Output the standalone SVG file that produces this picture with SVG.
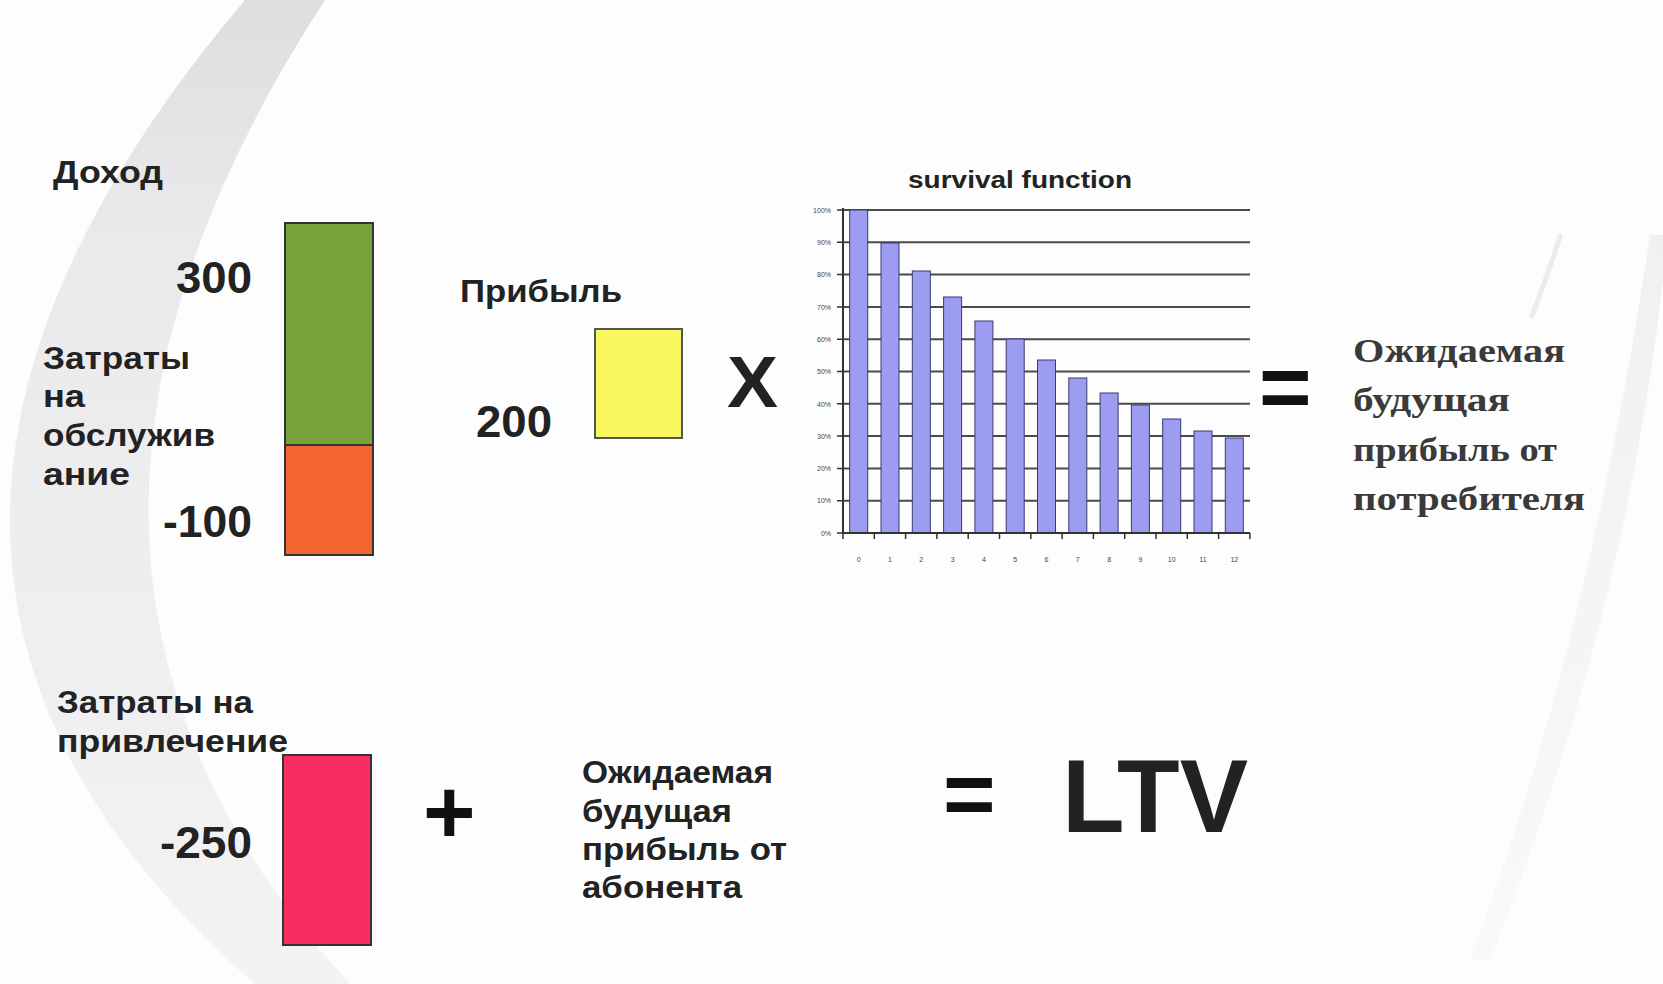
<svg xmlns="http://www.w3.org/2000/svg" width="1663" height="984" viewBox="0 0 1663 984">
  <defs>
    <linearGradient id="swooshL" x1="0" y1="0" x2="0" y2="1">
      <stop offset="0" stop-color="#dedee1"/>
      <stop offset="0.25" stop-color="#eaeaec"/>
      <stop offset="1" stop-color="#f3f3f4"/>
    </linearGradient>
    <linearGradient id="swooshR" x1="0" y1="0" x2="0" y2="1">
      <stop offset="0" stop-color="#ebebed"/>
      <stop offset="1" stop-color="#f7f7f8"/>
    </linearGradient>
    <style>
      .sans { font-family: "Liberation Sans", Arial, sans-serif; font-weight: bold; fill: #222; }
      .lbl { font-size: 32px; }
      .num { font-size: 44px; }
      .op { font-size: 90px; fill: #111; }
      .serif { font-family: "Liberation Serif", "Times New Roman", serif; font-weight: bold; font-size: 33px; fill: #3a3a3a; }
      .tick { font-family: "Liberation Sans", Arial, sans-serif; font-size: 7px; fill: #444; }
      .grid { stroke: #4a4a4a; stroke-width: 2; }
      .bar { fill: #9c9cf0; stroke: #3a3a70; stroke-width: 1; }
      .box { stroke: #333; stroke-width: 2; }
    </style>
  </defs>

  <!-- background -->
  <rect x="0" y="0" width="1663" height="984" fill="#fdfdfd"/>
  <path d="M 245,0 Q -230,560 255,984 L 350,984 Q -40,560 325,0 Z" fill="url(#swooshL)"/>
  <path d="M 1650,235 Q 1590,640 1470,960 L 1490,960 Q 1625,620 1663,280 L 1663,235 Z" fill="url(#swooshR)" opacity="0.7"/>
  <path d="M 1560,236 Q 1548,275 1532,316" stroke="#ececee" stroke-width="5" fill="none" stroke-linecap="round"/>

  <!-- Revenue / service cost bar -->
  <g id="revenue-bar">
    <text class="sans lbl" x="53" y="183" textLength="110" lengthAdjust="spacingAndGlyphs">Доход</text>
    <rect class="box" x="285" y="223" width="88" height="222" fill="#76a33c"/>
    <rect class="box" x="285" y="445" width="88" height="110" fill="#f2652e"/>
    <text class="sans num" x="252" y="293" text-anchor="end" textLength="76" lengthAdjust="spacingAndGlyphs">300</text>
    <text class="sans num" x="252" y="537" text-anchor="end" textLength="89" lengthAdjust="spacingAndGlyphs">-100</text>
    <text class="sans lbl" x="43" y="369" textLength="147" lengthAdjust="spacingAndGlyphs">Затраты</text>
    <text class="sans lbl" x="43" y="407" textLength="42" lengthAdjust="spacingAndGlyphs">на</text>
    <text class="sans lbl" x="43" y="446" textLength="172" lengthAdjust="spacingAndGlyphs">обслужив</text>
    <text class="sans lbl" x="43" y="485" textLength="87" lengthAdjust="spacingAndGlyphs">ание</text>
  </g>

  <!-- Profit -->
  <g id="profit">
    <text class="sans lbl" x="460" y="302" textLength="162" lengthAdjust="spacingAndGlyphs">Прибыль</text>
    <rect x="595" y="329" width="87" height="109" fill="#f9f75e" stroke="#555" stroke-width="2"/>
    <text class="sans num" x="552" y="437" text-anchor="end" textLength="76" lengthAdjust="spacingAndGlyphs">200</text>
  </g>

  <!-- operators -->
  <g id="op-times">
    <text class="sans" x="727" y="407" font-size="72" fill="#111" textLength="51" lengthAdjust="spacingAndGlyphs">X</text>
  </g>
  <g id="op-equals-1">
    <text class="sans op" x="1259" y="418">=</text>
  </g>

  <!-- survival function chart -->
  <g id="survival-chart">
    <text class="sans" x="908" y="188" font-size="24" fill="#333" textLength="224" lengthAdjust="spacingAndGlyphs">survival function</text>
    <g id="gridlines">
      <line class="grid" x1="843" y1="210" x2="1250" y2="210"/>
      <line class="grid" x1="843" y1="242.3" x2="1250" y2="242.3"/>
      <line class="grid" x1="843" y1="274.6" x2="1250" y2="274.6"/>
      <line class="grid" x1="843" y1="306.9" x2="1250" y2="306.9"/>
      <line class="grid" x1="843" y1="339.2" x2="1250" y2="339.2"/>
      <line class="grid" x1="843" y1="371.5" x2="1250" y2="371.5"/>
      <line class="grid" x1="843" y1="403.8" x2="1250" y2="403.8"/>
      <line class="grid" x1="843" y1="436.1" x2="1250" y2="436.1"/>
      <line class="grid" x1="843" y1="468.4" x2="1250" y2="468.4"/>
      <line class="grid" x1="843" y1="500.7" x2="1250" y2="500.7"/>
    </g>
    <g id="bars">
      <rect class="bar" x="849.7" y="210" width="18" height="323"/>
      <rect class="bar" x="881" y="243" width="18" height="290"/>
      <rect class="bar" x="912.3" y="271" width="18" height="262"/>
      <rect class="bar" x="943.6" y="297" width="18" height="236"/>
      <rect class="bar" x="974.9" y="321" width="18" height="212"/>
      <rect class="bar" x="1006.2" y="339" width="18" height="194"/>
      <rect class="bar" x="1037.5" y="360" width="18" height="173"/>
      <rect class="bar" x="1068.8" y="378" width="18" height="155"/>
      <rect class="bar" x="1100.1" y="393" width="18" height="140"/>
      <rect class="bar" x="1131.4" y="405" width="18" height="128"/>
      <rect class="bar" x="1162.7" y="419" width="18" height="114"/>
      <rect class="bar" x="1194" y="431" width="18" height="102"/>
      <rect class="bar" x="1225.3" y="438" width="18" height="95"/>
    </g>
    <g id="axes" stroke="#333" stroke-width="2">
      <line x1="843" y1="208" x2="843" y2="534"/>
      <line x1="843" y1="533" x2="1250" y2="533"/>
      <path d="M 837,210 H 843 M 837,242.3 H 843 M 837,274.6 H 843 M 837,306.9 H 843 M 837,339.2 H 843 M 837,371.5 H 843 M 837,403.8 H 843 M 837,436.1 H 843 M 837,468.4 H 843 M 837,500.7 H 843 M 837,533 H 843" stroke-width="1.5"/>
      <path d="M 843,533 V 539 M 874.3,533 V 539 M 905.6,533 V 539 M 936.9,533 V 539 M 968.2,533 V 539 M 999.5,533 V 539 M 1030.8,533 V 539 M 1062.1,533 V 539 M 1093.4,533 V 539 M 1124.7,533 V 539 M 1156,533 V 539 M 1187.3,533 V 539 M 1218.6,533 V 539 M 1249.9,533 V 539" stroke-width="1.5"/>
    </g>
    <g id="y-labels" text-anchor="end">
      <text class="tick" x="831" y="213">100%</text>
      <text class="tick" x="831" y="245">90%</text>
      <text class="tick" x="831" y="277">80%</text>
      <text class="tick" x="831" y="310">70%</text>
      <text class="tick" x="831" y="342">60%</text>
      <text class="tick" x="831" y="374">50%</text>
      <text class="tick" x="831" y="407">40%</text>
      <text class="tick" x="831" y="439">30%</text>
      <text class="tick" x="831" y="471">20%</text>
      <text class="tick" x="831" y="503">10%</text>
      <text class="tick" x="831" y="536">0%</text>
    </g>
    <g id="x-labels" text-anchor="middle">
      <text class="tick" x="858.7" y="562">0</text>
      <text class="tick" x="890" y="562">1</text>
      <text class="tick" x="921.3" y="562">2</text>
      <text class="tick" x="952.6" y="562">3</text>
      <text class="tick" x="983.9" y="562">4</text>
      <text class="tick" x="1015.2" y="562">5</text>
      <text class="tick" x="1046.5" y="562">6</text>
      <text class="tick" x="1077.8" y="562">7</text>
      <text class="tick" x="1109.1" y="562">8</text>
      <text class="tick" x="1140.4" y="562">9</text>
      <text class="tick" x="1171.7" y="562">10</text>
      <text class="tick" x="1203" y="562">11</text>
      <text class="tick" x="1234.3" y="562">12</text>
    </g>
  </g>

  <!-- Expected future profit from consumer -->
  <g id="expected-consumer">
    <text class="serif" x="1353" y="362" textLength="212" lengthAdjust="spacingAndGlyphs">Ожидаемая</text>
    <text class="serif" x="1353" y="411" textLength="157" lengthAdjust="spacingAndGlyphs">будущая</text>
    <text class="serif" x="1353" y="461" textLength="204" lengthAdjust="spacingAndGlyphs">прибыль от</text>
    <text class="serif" x="1353" y="510" textLength="232" lengthAdjust="spacingAndGlyphs">потребителя</text>
  </g>

  <!-- Acquisition cost -->
  <g id="acquisition">
    <text class="sans lbl" x="57" y="713" textLength="196" lengthAdjust="spacingAndGlyphs">Затраты на</text>
    <text class="sans lbl" x="57" y="752" textLength="231" lengthAdjust="spacingAndGlyphs">привлечение</text>
    <rect class="box" x="283" y="755" width="88" height="190" fill="#f82d62"/>
    <text class="sans num" x="252" y="858" text-anchor="end" textLength="92" lengthAdjust="spacingAndGlyphs">-250</text>
  </g>

  <g id="op-plus">
    <text class="sans op" x="423" y="843">+</text>
  </g>

  <!-- Expected future profit from subscriber -->
  <g id="expected-subscriber">
    <text class="sans lbl" x="582" y="783" textLength="191" lengthAdjust="spacingAndGlyphs">Ожидаемая</text>
    <text class="sans lbl" x="582" y="822" textLength="150" lengthAdjust="spacingAndGlyphs">будущая</text>
    <text class="sans lbl" x="582" y="860" textLength="205" lengthAdjust="spacingAndGlyphs">прибыль от</text>
    <text class="sans lbl" x="582" y="898" textLength="160" lengthAdjust="spacingAndGlyphs">абонента</text>
  </g>

  <g id="op-equals-2">
    <text class="sans op" x="943" y="825">=</text>
  </g>

  <g id="ltv">
    <text class="sans" x="1062" y="832" font-size="103" fill="#111" textLength="186" lengthAdjust="spacingAndGlyphs">LTV</text>
  </g>
</svg>
